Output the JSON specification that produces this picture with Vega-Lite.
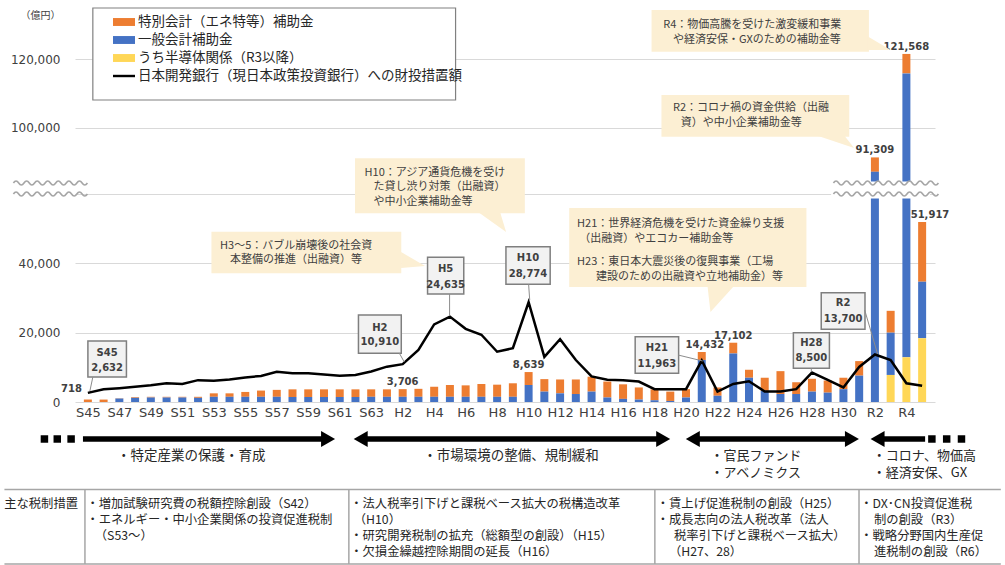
{
"$schema":"https://vega.github.io/schema/vega-lite/v6.json",
"width":860,"height":402,
"autosize":{"type":"none"},
"padding":{"left":75,"top":0,"right":70,"bottom":163},
"background":"#ffffff",
"config":{"view":{"stroke":null},"font":"Noto Sans CJK JP","text":{"font":"Noto Sans CJK JP","color":"#262626"}},
"datasets":{"main":[
{"x":0,"year":"S45","特別会計（エネ特等）補助金":718,"一般会計補助金":0,"うち半導体関係（R3以降）":0,"dbj":2632},
{"x":1,"year":"S46","特別会計（エネ特等）補助金":700,"一般会計補助金":0,"うち半導体関係（R3以降）":0,"dbj":3700},
{"x":2,"year":"S47","特別会計（エネ特等）補助金":100,"一般会計補助金":1000,"うち半導体関係（R3以降）":0,"dbj":4000},
{"x":3,"year":"S48","特別会計（エネ特等）補助金":200,"一般会計補助金":1200,"うち半導体関係（R3以降）":0,"dbj":4400},
{"x":4,"year":"S49","特別会計（エネ特等）補助金":200,"一般会計補助金":1300,"うち半導体関係（R3以降）":0,"dbj":4800},
{"x":5,"year":"S50","特別会計（エネ特等）補助金":200,"一般会計補助金":1300,"うち半導体関係（R3以降）":0,"dbj":5400},
{"x":6,"year":"S51","特別会計（エネ特等）補助金":200,"一般会計補助金":1300,"うち半導体関係（R3以降）":0,"dbj":5200},
{"x":7,"year":"S52","特別会計（エネ特等）補助金":300,"一般会計補助金":1200,"うち半導体関係（R3以降）":0,"dbj":6300},
{"x":8,"year":"S53","特別会計（エネ特等）補助金":1000,"一般会計補助金":1500,"うち半導体関係（R3以降）":0,"dbj":6100},
{"x":9,"year":"S54","特別会計（エネ特等）補助金":1000,"一般会計補助金":1500,"うち半導体関係（R3以降）":0,"dbj":6500},
{"x":10,"year":"S55","特別会計（エネ特等）補助金":1400,"一般会計補助金":1500,"うち半導体関係（R3以降）":0,"dbj":7100},
{"x":11,"year":"S56","特別会計（エネ特等）補助金":1800,"一般会計補助金":1500,"うち半導体関係（R3以降）":0,"dbj":7500},
{"x":12,"year":"S57","特別会計（エネ特等）補助金":2000,"一般会計補助金":1500,"うち半導体関係（R3以降）":0,"dbj":8700},
{"x":13,"year":"S58","特別会計（エネ特等）補助金":2200,"一般会計補助金":1450,"うち半導体関係（R3以降）":0,"dbj":8300},
{"x":14,"year":"S59","特別会計（エネ特等）補助金":2200,"一般会計補助金":1450,"うち半導体関係（R3以降）":0,"dbj":8300},
{"x":15,"year":"S60","特別会計（エネ特等）補助金":2200,"一般会計補助金":1450,"うち半導体関係（R3以降）":0,"dbj":7900},
{"x":16,"year":"S61","特別会計（エネ特等）補助金":2200,"一般会計補助金":1450,"うち半導体関係（R3以降）":0,"dbj":7600},
{"x":17,"year":"S62","特別会計（エネ特等）補助金":2200,"一般会計補助金":1450,"うち半導体関係（R3以降）":0,"dbj":7800},
{"x":18,"year":"S63","特別会計（エネ特等）補助金":2150,"一般会計補助金":1500,"うち半導体関係（R3以降）":0,"dbj":8800},
{"x":19,"year":"H1","特別会計（エネ特等）補助金":2150,"一般会計補助金":1500,"うち半導体関係（R3以降）":0,"dbj":10200},
{"x":20,"year":"H2","特別会計（エネ特等）補助金":2206,"一般会計補助金":1500,"うち半導体関係（R3以降）":0,"dbj":10910},
{"x":21,"year":"H3","特別会計（エネ特等）補助金":2300,"一般会計補助金":1500,"うち半導体関係（R3以降）":0,"dbj":15000},
{"x":22,"year":"H4","特別会計（エネ特等）補助金":2900,"一般会計補助金":1500,"うち半導体関係（R3以降）":0,"dbj":22400},
{"x":23,"year":"H5","特別会計（エネ特等）補助金":3400,"一般会計補助金":1500,"うち半導体関係（R3以降）":0,"dbj":24635},
{"x":24,"year":"H6","特別会計（エネ特等）補助金":3300,"一般会計補助金":1500,"うち半導体関係（R3以降）":0,"dbj":21100},
{"x":25,"year":"H7","特別会計（エネ特等）補助金":3700,"一般会計補助金":1500,"うち半導体関係（R3以降）":0,"dbj":19400},
{"x":26,"year":"H8","特別会計（エネ特等）補助金":3500,"一般会計補助金":1500,"うち半導体関係（R3以降）":0,"dbj":14500},
{"x":27,"year":"H9","特別会計（エネ特等）補助金":3900,"一般会計補助金":1500,"うち半導体関係（R3以降）":0,"dbj":15500},
{"x":28,"year":"H10","特別会計（エネ特等）補助金":3739,"一般会計補助金":4900,"うち半導体関係（R3以降）":0,"dbj":28774},
{"x":29,"year":"H11","特別会計（エネ特等）補助金":3600,"一般会計補助金":3000,"うち半導体関係（R3以降）":0,"dbj":13000},
{"x":30,"year":"H12","特別会計（エネ特等）補助金":4000,"一般会計補助金":2500,"うち半導体関係（R3以降）":0,"dbj":18100},
{"x":31,"year":"H13","特別会計（エネ特等）補助金":4200,"一般会計補助金":2300,"うち半導体関係（R3以降）":0,"dbj":12100},
{"x":32,"year":"H14","特別会計（エネ特等）補助金":4300,"一般会計補助金":3000,"うち半導体関係（R3以降）":0,"dbj":7400},
{"x":33,"year":"H15","特別会計（エネ特等）補助金":4600,"一般会計補助金":1300,"うち半導体関係（R3以降）":0,"dbj":6400},
{"x":34,"year":"H16","特別会計（エネ特等）補助金":4200,"一般会計補助金":900,"うち半導体関係（R3以降）":0,"dbj":6300},
{"x":35,"year":"H17","特別会計（エネ特等）補助金":3500,"一般会計補助金":700,"うち半導体関係（R3以降）":0,"dbj":5900},
{"x":36,"year":"H18","特別会計（エネ特等）補助金":3150,"一般会計補助金":500,"うち半導体関係（R3以降）":0,"dbj":3700},
{"x":37,"year":"H19","特別会計（エネ特等）補助金":2700,"一般会計補助金":300,"うち半導体関係（R3以降）":0,"dbj":3700},
{"x":38,"year":"H20","特別会計（エネ特等）補助金":2400,"一般会計補助金":1300,"うち半導体関係（R3以降）":0,"dbj":3700},
{"x":39,"year":"H21","特別会計（エネ特等）補助金":2300,"一般会計補助金":12132,"うち半導体関係（R3以降）":0,"dbj":11963},
{"x":40,"year":"H22","特別会計（エネ特等）補助金":2400,"一般会計補助金":1800,"うち半導体関係（R3以降）":0,"dbj":3000},
{"x":41,"year":"H23","特別会計（エネ特等）補助金":3102,"一般会計補助金":14000,"うち半導体関係（R3以降）":0,"dbj":5200},
{"x":42,"year":"H24","特別会計（エネ特等）補助金":2300,"一般会計補助金":7000,"うち半導体関係（R3以降）":0,"dbj":6000},
{"x":43,"year":"H25","特別会計（エネ特等）補助金":3800,"一般会計補助金":3200,"うち半導体関係（R3以降）":0,"dbj":3000},
{"x":44,"year":"H26","特別会計（エネ特等）補助金":6600,"一般会計補助金":2300,"うち半導体関係（R3以降）":0,"dbj":3000},
{"x":45,"year":"H27","特別会計（エネ特等）補助金":3400,"一般会計補助金":2300,"うち半導体関係（R3以降）":0,"dbj":3700},
{"x":46,"year":"H28","特別会計（エネ特等）補助金":3700,"一般会計補助金":3000,"うち半導体関係（R3以降）":0,"dbj":8500},
{"x":47,"year":"H29","特別会計（エネ特等）補助金":3500,"一般会計補助金":2700,"うち半導体関係（R3以降）":0,"dbj":6400},
{"x":48,"year":"H30","特別会計（エネ特等）補助金":3300,"一般会計補助金":3700,"うち半導体関係（R3以降）":0,"dbj":4200},
{"x":49,"year":"R1","特別会計（エネ特等）補助金":4200,"一般会計補助金":7600,"うち半導体関係（R3以降）":0,"dbj":10100},
{"x":50,"year":"R2","特別会計（エネ特等）補助金":4209,"一般会計補助金":87100,"うち半導体関係（R3以降）":0,"dbj":13700},
{"x":51,"year":"R3","特別会計（エネ特等）補助金":6300,"一般会計補助金":12200,"うち半導体関係（R3以降）":7800,"dbj":12100},
{"x":52,"year":"R4","特別会計（エネ特等）補助金":5698,"一般会計補助金":102970,"うち半導体関係（R3以降）":12900,"dbj":5400},
{"x":53,"year":"R5","特別会計（エネ特等）補助金":17217,"一般会計補助金":16300,"うち半導体関係（R3以降）":18400,"dbj":4700}
]},
"encoding":{
 "x":{"field":"x","type":"quantitative","scale":{"domain":[-0.5,53.5],"nice":false,"zero":false},
  "axis":{"values":[0,2,4,6,8,10,12,14,16,18,20,22,24,26,28,30,32,34,36,38,40,42,44,46,48,50,52],"labelExpr":"datum.value <= 18 ? 'S' + (45 + datum.value) : datum.value <= 48 ? 'H' + (datum.value - 18) : 'R' + (datum.value - 48)","grid":false,"ticks":false,"tickSize":0,"domain":false,"title":null,"labelFont":"DejaVu Sans","labelFontSize":13,"labelColor":"#404040","labelPadding":4,"labelOverlap":false,"labelFlush":false}},
 "y":{"field":"y","type":"quantitative","scale":{"domain":[0,60000,84000,125000],"range":[402,194,182.4,42.2],"nice":false,"zero":false},
  "axis":{"values":[0,20000,40000,60000,100000,120000],"labelExpr":"datum.value == 60000 ? '' : format(datum.value, ',')","grid":true,"gridColor":"#d9d9d9","gridWidth":1,"ticks":false,"tickSize":0,"domain":false,"labelFont":"DejaVu Sans","labelFontSize":12,"labelColor":"#404040","labelPadding":15,"labelOverlap":false,"title":"（億円）","titleAngle":0,"titleX":-15,"titleY":15,"titleAlign":"right","titleBaseline":"middle","titleFontSize":10,"titleFontWeight":"normal","titleFont":"Noto Sans CJK JP","titleColor":"#404040"}}
},
"layer":[
{"data":{"name":"main"},
 "transform":[{"fold":["特別会計（エネ特等）補助金","一般会計補助金","うち半導体関係（R3以降）"],"as":["series","value"]}],
 "mark":{"type":"bar","size":8},
 "encoding":{
  "y":{"field":"value","type":"quantitative","stack":"zero","scale":{"domain":[0,60000,84000,125000],"range":[402,194,182.4,42.2],"nice":false,"zero":false},
   "axis":{"values":[0,20000,40000,60000,100000,120000],"labelExpr":"datum.value == 60000 ? '' : format(datum.value, ',')","grid":true,"gridColor":"#d9d9d9","gridWidth":1,"ticks":false,"tickSize":0,"domain":false,"labelFont":"DejaVu Sans","labelFontSize":12,"labelColor":"#404040","labelPadding":15,"labelOverlap":false,"title":"（億円）","titleAngle":0,"titleX":-15,"titleY":15,"titleAlign":"right","titleBaseline":"middle","titleFontSize":10,"titleFontWeight":"normal","titleFont":"Noto Sans CJK JP","titleColor":"#404040"}},
  "color":{"field":"series","type":"nominal","scale":{"domain":["特別会計（エネ特等）補助金","一般会計補助金","うち半導体関係（R3以降）","日本開発銀行（現日本政策投資銀行）への財投措置額"],"range":["#ED7D31","#4472C4","#FFD757","#000000"]},
   "legend":{"title":null,"orient":"none","legendX":38,"legendY":11,"direction":"vertical","symbolType":"M-1,-0.36H1V0.36H-1Z","symbolSize":484,"symbolStrokeWidth":0,"symbolOpacity":1,"labelFont":"Noto Sans CJK JP","labelFontSize":13.5,"labelColor":"#262626","labelLimit":500,"labelOffset":3,"rowPadding":0,"padding":0,
    "encode":{"symbols":{"update":{"shape":{"signal":"datum.value === '日本開発銀行（現日本政策投資銀行）への財投措置額' ? 'M-1,-0.11H1V0.11H-1Z' : 'M-1,-0.36H1V0.36H-1Z'"},"fill":{"scale":"color","field":"value"},"stroke":{"value":"transparent"}}}}}},
  "order":{"field":"series","type":"ordinal","sort":"ascending"}
 }},
{"data":{"name":"main"},
 "mark":{"type":"line","strokeWidth":2.5},
 "encoding":{
  "y":{"field":"dbj","type":"quantitative","scale":{"domain":[0,60000,84000,125000],"range":[402,194,182.4,42.2],"nice":false,"zero":false},
   "axis":{"values":[0,20000,40000,60000,100000,120000],"labelExpr":"datum.value == 60000 ? '' : format(datum.value, ',')","grid":true,"gridColor":"#d9d9d9","gridWidth":1,"ticks":false,"tickSize":0,"domain":false,"labelFont":"DejaVu Sans","labelFontSize":12,"labelColor":"#404040","labelPadding":15,"labelOverlap":false,"title":"（億円）","titleAngle":0,"titleX":-15,"titleY":15,"titleAlign":"right","titleBaseline":"middle","titleFontSize":10,"titleFontWeight":"normal","titleFont":"Noto Sans CJK JP","titleColor":"#404040"}},
  "color":{"datum":"日本開発銀行（現日本政策投資銀行）への財投措置額","type":"nominal","scale":{"domain":["特別会計（エネ特等）補助金","一般会計補助金","うち半導体関係（R3以降）","日本開発銀行（現日本政策投資銀行）への財投措置額"],"range":["#ED7D31","#4472C4","#FFD757","#000000"]}}
 }},
{"data":{"values":[{"x":47.22,"x2":53.5,"y":84263,"y2":58702}]},
 "mark":{"type":"rect","fill":"#ffffff"},
 "encoding":{"x2":{"field":"x2"},"y2":{"field":"y2"}}},
{"data":{"values":[{"x":-2.38,"y":82759},{"x":-2.38,"y":60000}]},
 "mark":{"type":"point","shape":"M-1,0Q-0.9286,-0.11,-0.8571,0T-0.7143,0T-0.5714,0T-0.4286,0T-0.2857,0T-0.1429,0T0,0T0.1429,0T0.2857,0T0.4286,0T0.5714,0T0.7143,0T0.8571,0T1,0","size":5476,"filled":false,"color":"#a6a6a6","opacity":1,"strokeWidth":1.6}},
{"data":{"values":[{"x":50.7,"y":82759},{"x":50.7,"y":60000}]},
 "mark":{"type":"point","shape":"M-1,0Q-0.95,-0.076,-0.9,0T-0.8,0T-0.7,0T-0.6,0T-0.5,0T-0.4,0T-0.3,0T-0.2,0T-0.1,0T0,0T0.1,0T0.2,0T0.3,0T0.4,0T0.5,0T0.6,0T0.7,0T0.8,0T0.9,0T1,0","size":11025,"filled":false,"color":"#a6a6a6","opacity":1,"strokeWidth":1.6}},
{"data":{"values":[{"x":0.316,"x2":23.36,"y":135001,"y2":108097}]},
 "mark":{"type":"rect","fill":"#ffffff","stroke":"#808080","strokeWidth":1.2},
 "encoding":{"x2":{"field":"x2"},"y2":{"field":"y2"}}},
{"data":{"values":[
  {"x":0.002,"x2":2.45,"y":17596,"y2":7212},
  {"x":17.19,"x2":19.91,"y":25096,"y2":14048},
  {"x":21.58,"x2":23.88,"y":41740,"y2":31154},
  {"x":26.56,"x2":29.37,"y":44798,"y2":33952},
  {"x":34.77,"x2":37.53,"y":18836,"y2":8279},
  {"x":44.82,"x2":47.11,"y":19990,"y2":9721},
  {"x":46.59,"x2":49.37,"y":31529,"y2":20971}]},
 "mark":{"type":"rect","fill":"#f2f2f2","stroke":"#7f7f7f","strokeWidth":1.5},
 "encoding":{"x2":{"field":"x2"},"y2":{"field":"y2"}}},
{"data":{"values":[
  {"x":0.316,"y":7212,"x2":0.128,"y2":3173},
  {"x":19.78,"y":14135,"x2":20.1,"y2":11538},
  {"x":22.98,"y":31154,"x2":22.98,"y2":24808},
  {"x":28.0,"y":33952,"x2":28.07,"y2":29423},
  {"x":37.49,"y":13558,"x2":39.06,"y2":11827},
  {"x":45.96,"y":9721,"x2":45.96,"y2":8700},
  {"x":49.35,"y":26538,"x2":50.17,"y2":13846}]},
 "mark":{"type":"rule","color":"#8c8c8c","strokeWidth":1},
 "encoding":{"x2":{"field":"x2"},"y2":{"field":"y2"}}},
{"data":{"values":[
  {"x":1.227,"y":14221,"t":"S45"},{"x":1.227,"y":9721,"t":"2,632"},
  {"x":18.55,"y":21259,"t":"H2"},{"x":18.55,"y":17221,"t":"10,910"},
  {"x":22.73,"y":38278,"t":"H5"},{"x":22.73,"y":33750,"t":"24,635"},
  {"x":27.96,"y":41452,"t":"H10"},{"x":27.96,"y":36923,"t":"28,774"},
  {"x":36.15,"y":15490,"t":"H21"},{"x":36.15,"y":10961,"t":"11,963"},
  {"x":45.96,"y":17106,"t":"H28"},{"x":45.96,"y":12606,"t":"8,500"},
  {"x":47.98,"y":28471,"t":"R2"},{"x":47.98,"y":23942,"t":"13,700"}]},
 "mark":{"type":"text","font":"DejaVu Sans","fontWeight":"bold","fontSize":10,"color":"#404040","align":"center","baseline":"middle"},
 "encoding":{"text":{"field":"t"}}},
{"data":{"values":[
  {"x":20,"y":3706,"t":"3,706"},{"x":28,"y":8639,"t":"8,639"},{"x":39.2,"y":14432,"t":"14,432"},{"x":41,"y":17102,"t":"17,102"},
  {"x":50,"y":91309,"t":"91,309"},{"x":52,"y":121568,"t":"121,568"},{"x":53.5,"y":51917,"t":"51,917"}]},
 "mark":{"type":"text","font":"DejaVu Sans","fontWeight":"bold","fontSize":10,"color":"#404040","align":"center","baseline":"bottom","dy":-2},
 "encoding":{"text":{"field":"t"}}},
{"data":{"values":[{"x":-0.374,"y":3750,"t":"718"}]},
 "mark":{"type":"text","font":"DejaVu Sans","fontWeight":"bold","fontSize":10,"color":"#404040","align":"right","baseline":"middle"},
 "encoding":{"text":{"field":"t"}}},
{"data":{"values":[
  {"x":7.85,"x2":19.91,"y":49125,"y2":37125},
  {"x":16.97,"x2":27.76,"y":91048,"y2":54434},
  {"x":30.58,"x2":45.65,"y":55961,"y2":33173},
  {"x":36.44,"x2":48.37,"y":109559,"y2":97365},
  {"x":35.81,"x2":49.62,"y":134417,"y2":122222}]},
 "mark":{"type":"rect","fill":"#fcefd3"},
 "encoding":{"x2":{"field":"x2"},"y2":{"field":"y2"}}},
{"data":{"values":[{"x":20.66,"y":40961}]},
 "mark":{"type":"point","shape":"M-1,-0.667L1,0.5L-1,0.667Z","size":576,"filled":true,"color":"#fcefd3","opacity":1,"strokeWidth":0}},
{"data":{"values":[{"x":25.68,"y":51779}]},
 "mark":{"type":"point","shape":"M-1,-0.75L0.57,-0.75L1,0.68Z","size":784,"filled":true,"color":"#fcefd3","opacity":1,"strokeWidth":0}},
{"data":{"values":[{"x":40.22,"y":29711}]},
 "mark":{"type":"point","shape":"M-1,-1L1,-1L-0.778,0.963Z","size":729,"filled":true,"color":"#fcefd3","opacity":1,"strokeWidth":0}},
{"data":{"values":[{"x":47.47,"y":95815}]},
 "mark":{"type":"point","shape":"M-1,-0.35L0.474,-0.35L1,0.316Z","size":1444,"filled":true,"color":"#fcefd3","opacity":1,"strokeWidth":0}},
{"data":{"values":[{"x":50.27,"y":124766}]},
 "mark":{"type":"point","shape":"M-1.05,-0.609L-1.05,0.609L1,0.609Z","size":529,"filled":true,"color":"#fcefd3","opacity":1,"strokeWidth":0}},
{"data":{"values":[
  {"x":8.40,"y":45144,"t":"H3～5：バブル崩壊後の社会資"},
  {"x":9.03,"y":40961,"t":"本整備の推進（出融資）等"},
  {"x":17.58,"y":86895,"t":"H10：アジア通貨危機を受け"},
  {"x":18.15,"y":74483,"t":"た貸し渋り対策（出融資）"},
  {"x":18.15,"y":57836,"t":"や中小企業補助金等"},
  {"x":31.08,"y":51202,"t":"H21：世界経済危機を受けた資金繰り支援"},
  {"x":31.21,"y":47019,"t":"（出融資）やエコカー補助金等"},
  {"x":31.08,"y":40471,"t":"H23：東日本大震災後の復興事業（工場"},
  {"x":32.28,"y":36144,"t":"建設のための出融資や立地補助金）等"},
  {"x":37.17,"y":105670,"t":"R2：コロナ禍の資金供給（出融"},
  {"x":37.67,"y":101283,"t":"資）や中小企業補助金等"},
  {"x":36.55,"y":130030,"t":"R4：物価高騰を受けた激変緩和事業"},
  {"x":37.17,"y":125643,"t":"や経済安保・GXのための補助金等"}]},
 "mark":{"type":"text","font":"Noto Sans CJK JP","fontSize":11,"color":"#404040","align":"left","baseline":"middle"},
 "encoding":{"text":{"field":"t"}}},
{"data":{"values":[
  {"x":-0.312,"x2":15.26,"y":-10673},
  {"x":17.33,"x2":36.55,"y":-10673},
  {"x":38.43,"x2":48.54,"y":-10673},
  {"x":50.17,"x2":53.19,"y":-10673}]},
 "mark":{"type":"rule","color":"#000000","strokeWidth":5.5},
 "encoding":{"x2":{"field":"x2"}}},
{"data":{"values":[{"x":15.26,"y":-10673},{"x":36.55,"y":-10673},{"x":48.54,"y":-10673}]},
 "mark":{"type":"point","shape":"M-0.875,-1L0.875,0L-0.875,1Z","size":256,"filled":true,"color":"#000000","opacity":1,"strokeWidth":0}},
{"data":{"values":[{"x":17.33,"y":-10673},{"x":38.43,"y":-10673},{"x":50.17,"y":-10673}]},
 "mark":{"type":"point","shape":"M0.875,-1L-0.875,0L0.875,1Z","size":256,"filled":true,"color":"#000000","opacity":1,"strokeWidth":0}},
{"data":{"values":[{"x":-2.76,"y":-10673},{"x":-1.944,"y":-10673},{"x":-1.065,"y":-10673},{"x":53.62,"y":-10673},{"x":54.56,"y":-10673},{"x":55.5,"y":-10673}]},
 "mark":{"type":"point","shape":"square","size":56,"filled":true,"color":"#000000","opacity":1,"strokeWidth":0}},
{"data":{"values":[{"x":6.56,"y":-15700,"t":"・特定産業の保護・育成"},{"x":26.88,"y":-15700,"t":"・市場環境の整備、規制緩和"}]},
 "mark":{"type":"text","font":"Noto Sans CJK JP","fontSize":13.5,"color":"#262626","align":"center","baseline":"middle"},
 "encoding":{"text":{"field":"t"}}},
{"data":{"values":[
  {"x":39.56,"y":-15500,"t":"・官民ファンド"},{"x":39.56,"y":-20567,"t":"・アベノミクス"},
  {"x":49.86,"y":-15500,"t":"・コロナ、物価高"},{"x":49.86,"y":-20567,"t":"・経済安保、GX"}]},
 "mark":{"type":"text","font":"Noto Sans CJK JP","fontSize":13,"color":"#262626","align":"left","baseline":"middle"},
 "encoding":{"text":{"field":"t"}}},
{"data":{"values":[{"x":-5.3,"x2":58,"y":-25240},{"x":-5.3,"x2":58,"y":-46731}]},
 "mark":{"type":"rule","color":"#a6a6a6","strokeWidth":1.5},
 "encoding":{"x2":{"field":"x2"}}},
{"data":{"values":[{"x":-0.186,"y":-25240,"y2":-46731},{"x":16.58,"y":-25240,"y2":-46731},{"x":36.02,"y":-25240,"y2":-46731},{"x":48.99,"y":-25240,"y2":-46731}]},
 "mark":{"type":"rule","color":"#a6a6a6","strokeWidth":1.5},
 "encoding":{"y2":{"field":"y2"}}},
{"data":{"values":[
  {"x":-0.092,"y":-29423,"t":"・増加試験研究費の税額控除創設（S42）"},
  {"x":-0.092,"y":-34038,"t":"・エネルギー・中小企業関係の投資促進税制"},
  {"x":0.442,"y":-38654,"t":"（S53～）"},
  {"x":16.67,"y":-29423,"t":"・法人税率引下げと課税ベース拡大の税構造改革"},
  {"x":16.89,"y":-34038,"t":"（H10）"},
  {"x":16.67,"y":-38654,"t":"・研究開発税制の拡充（総額型の創設）（H15）"},
  {"x":16.67,"y":-43269,"t":"・欠損金繰越控除期間の延長（H16）"},
  {"x":36.14,"y":-29423,"t":"・賃上げ促進税制の創設（H25）"},
  {"x":36.14,"y":-34038,"t":"・成長志向の法人税改革（法人"},
  {"x":37.24,"y":-38654,"t":"税率引下げと課税ベース拡大）"},
  {"x":36.92,"y":-43269,"t":"（H27、28）"},
  {"x":49.07,"y":-29423,"t":"・DX･CN投資促進税"},
  {"x":49.94,"y":-34038,"t":"制の創設（R3）"},
  {"x":49.07,"y":-38654,"t":"・戦略分野国内生産促"},
  {"x":49.94,"y":-43269,"t":"進税制の創設（R6）"}]},
 "mark":{"type":"text","font":"Noto Sans CJK JP","fontSize":12.3,"color":"#262626","align":"left","baseline":"middle"},
 "encoding":{"text":{"field":"t"}}},
{"data":{"values":[{"x":-0.626,"y":-29423,"t":"主な税制措置"}]},
 "mark":{"type":"text","font":"Noto Sans CJK JP","fontSize":12.3,"color":"#262626","align":"right","baseline":"middle"},
 "encoding":{"text":{"field":"t"}}}
]
}
